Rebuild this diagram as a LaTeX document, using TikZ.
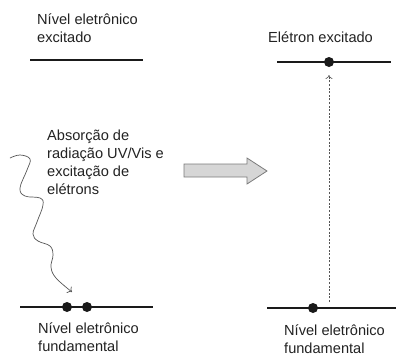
\documentclass[tikz,border=0pt]{standalone}
\usepackage{fontspec}
\setmainfont{Liberation Sans}
\usetikzlibrary{arrows.meta}
\definecolor{txt}{HTML}{222222}
\definecolor{lvl}{HTML}{1A1A1A}
\definecolor{wave}{HTML}{555555}
\definecolor{arrfill}{HTML}{D6D6D6}
\definecolor{arrdraw}{HTML}{7A7A7A}
\tikzset{
  lbl/.style={anchor=base west, inner sep=0pt, text=txt, align=left,
    font=\fontsize{14.6bp}{17.5bp}\selectfont},
  level/.style={draw=lvl, line width=2.6bp},
  electron/.style={circle, fill=lvl, inner sep=0pt, minimum size=10bp},
  exc/.style={draw=wave, line width=0.6bp, dashed, dash pattern=on 2bp off 1.6bp,
    -{To[length=4bp,width=7bp]}},
  wavy/.style={draw=wave, line width=0.7bp, -{To[length=4bp,width=8bp]}},
  bigarrow/.style={fill=arrfill, draw=arrdraw, line width=0.8bp}
}
\begin{document}
\begin{tikzpicture}[x=1bp,y=-1bp]
\useasboundingbox (0,0) rectangle (398,355);
% left top level
\node[lbl] (t1) at (37,42) {Nível eletrônico\\excitado};
\coordinate (a1) at (30,60); \coordinate (a2) at (143,60);
\draw[level] (a1) -- (a2);
% left bottom level
\coordinate (b1) at (20,307); \coordinate (b2) at (153,307);
\draw[level] (b1) -- (b2);
\node[electron] (e1) at (67,307) {};
\node[electron] (e2) at (87,307) {};
\node[lbl] (t2) at (38,351) {Nível eletrônico\\fundamental};
% absorption text
\node[lbl, font=\fontsize{14.6bp}{18bp}\selectfont] (t3) at (47,194) {Absorção de\\radiação UV/Vis e\\excitação de\\elétrons};
% wavy photon
\coordinate (w0) at (10,158);
\coordinate (w1) at (72,292);
\draw[wavy] plot[smooth, tension=0.65] coordinates {(10,158) (20,155) (30,159) (27,170) (20,188) (25,196) (40,198) (43,205) (37,222) (33,234) (38,241) (50,246) (53,255) (51,267) (56,278) (72,292)};
% big arrow
\draw[bigarrow] (184,164) -- (247,164) -- (247,158) -- (267,171) -- (247,184) -- (247,177) -- (184,177) -- cycle;
% right top level
\node[lbl] (t4) at (268,42) {Elétron excitado};
\coordinate (c1) at (277,62); \coordinate (c2) at (391,62);
\draw[level] (c1) -- (c2);
\node[electron] (e3) at (329,62) {};
% right bottom level
\coordinate (d1) at (267,308); \coordinate (d2) at (396,308);
\draw[level] (d1) -- (d2);
\node[electron] (e4) at (313,308) {};
\node[lbl] (t5) at (284,353) {Nível eletrônico\\fundamental};
% excitation
\coordinate (x0) at (329,302);
\coordinate (x1) at (329,75);
\draw[exc] (x0) -- (x1);
\end{tikzpicture}
\end{document}
